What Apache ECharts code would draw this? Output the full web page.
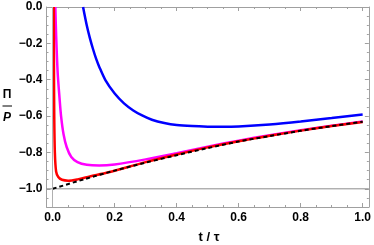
<!DOCTYPE html>
<html><head><meta charset="utf-8">
<script src="https://cdn.jsdelivr.net/npm/echarts@6/dist/echarts.min.js"></script>
<style>html,body{margin:0;padding:0;background:#fff}#c{width:374px;height:245px}</style>
</head><body><div id="c"></div>
<script>
// ---- data ----
const xMajorTicks = [0, 0.2, 0.4, 0.6, 0.8, 1.0];
const xMinorTicks = [0.05,0.1,0.15,0.25,0.3,0.35,0.45,0.5,0.55,0.65,0.7,0.75,0.85,0.9,0.95];
const yMajorTicks = [0, -0.2, -0.4, -0.6, -0.8, -1.0];
const yMinorTicks = [-0.05,-0.1,-0.15,-0.25,-0.3,-0.35,-0.45,-0.5,-0.55,-0.65,-0.7,-0.75,-0.85,-0.9,-0.95,-1.05];

const blueX = [0.098,0.11,0.12,0.13,0.14,0.15,0.17,0.2,0.23,0.26,0.29,0.32,0.36,0.4,0.45,0.5,0.55,0.6,0.7,0.8,0.9,1.0];
const blueY = [0,-0.102,-0.171,-0.231,-0.284,-0.328,-0.402,-0.476,-0.53,-0.569,-0.598,-0.62,-0.638,-0.649,-0.655,-0.658,-0.659,-0.657,-0.646,-0.63,-0.611,-0.591];

const magentaX = [0.0085,0.011,0.016,0.022,0.027,0.035,0.045,0.06,0.08,0.11,0.15,0.2,0.3,0.4,0.5,0.6,0.7,0.8,0.9,1.0];
const magentaY = [0,-0.15,-0.36,-0.5,-0.6,-0.7,-0.77,-0.825,-0.853,-0.868,-0.872,-0.866,-0.838,-0.804,-0.768,-0.735,-0.705,-0.678,-0.653,-0.63];

const redX = [0.0035,0.004,0.005,0.007,0.011,0.018,0.03,0.05,0.08,0.12,0.18,0.3,0.4,0.5,0.6,0.7,0.8,0.9,1.0];
const redY = [0,-0.3,-0.6,-0.8,-0.905,-0.935,-0.95,-0.955,-0.948,-0.932,-0.909,-0.853,-0.811,-0.772,-0.738,-0.708,-0.68,-0.655,-0.632];

const dashX = [0,0.1,0.2,0.3,0.4,0.5,0.6,0.7,0.8,0.9,1.0];
const dashY = [-1,-0.948,-0.9,-0.856,-0.815,-0.776,-0.74,-0.71,-0.681,-0.655,-0.631];

const refLineY = -1;
const refLineX = 0;
// --------------------------------------

const zip = (xs, ys) => xs.map((x, i) => [x, ys[i]]);
const fmt = v => (v < 0 ? '\u2212' : '') + Math.abs(v).toFixed(1);
const frameColor = '#a0a0a0';
const lblStyle = {color:'#000', fontWeight:'bold', fontSize:12, fontFamily:'Liberation Sans, Arial, sans-serif'};

function xAx(pos, major, labels) {
  return {
    type:'value', min:-0.02, max:1.02, position:pos, gridIndex:0,
    axisLine:{show:major, onZero:false, lineStyle:{color:frameColor, width:1}},
    axisTick:{show:true, inside:true, length: major?4:2, customValues: major?xMajorTicks:xMinorTicks, lineStyle:{color:frameColor}},
    axisLabel: labels ? Object.assign({show:true, customValues:xMajorTicks, formatter:fmt, margin:5}, lblStyle) : {show:false},
    splitLine:{show:false}
  };
}
function yAx(pos, major, labels) {
  return {
    type:'value', min:-1.1, max:0, position:pos, gridIndex:0,
    axisLine:{show:major, onZero:false, lineStyle:{color:frameColor, width:1}},
    axisTick:{show:true, inside:true, length: major?4:2, customValues: major?yMajorTicks:yMinorTicks, lineStyle:{color:frameColor}},
    axisLabel: labels ? Object.assign({show:true, customValues:yMajorTicks, formatter:fmt, margin:4}, lblStyle) : {show:false},
    splitLine:{show:false}
  };
}
const curve = (xs, ys, color, width, type) => ({
  type:'line', data:zip(xs, ys), symbol:'none', smooth:0.3,
  lineStyle:{color:color, width:width, type:type||'solid'}, clip:true
});

const chart = echarts.init(document.getElementById('c'), null, {renderer:'canvas'});
chart.setOption({
  animation:false,
  grid:{left:46.5, right:1.7, top:7, bottom:38, containLabel:false},
  xAxis:[xAx('bottom',true,true), xAx('bottom',false,false), xAx('top',true,false), xAx('top',false,false)],
  yAxis:[yAx('left',true,true), yAx('left',false,false), yAx('right',true,false), yAx('right',false,false)],
  series:[
    {type:'line', data:[[-0.02,refLineY],[1.02,refLineY]], symbol:'none', lineStyle:{color:'#8c8c8c', width:1}, silent:true,
     markLine:{symbol:'none', silent:true, label:{show:false}, lineStyle:{color:'#b0b0b0', width:1, type:'solid'}, data:[{xAxis:refLineX}]}},
    curve(blueX, blueY, '#0000ff', 2.5),
    curve(magentaX, magentaY, '#ff00ff', 2.5),
    curve(redX, redY, '#ff0000', 2.5),
    curve(dashX, dashY, '#000000', 2, [4,3])
  ],
  graphic:[
    {type:'text', x:209, y:237, style:{text:'t / \u03c4', textAlign:'center', textVerticalAlign:'middle', fill:'#000', font:'bold 13px "Liberation Sans", Arial, sans-serif'}},
    {type:'text', x:7, y:95, style:{text:'\u03a0', textAlign:'center', textVerticalAlign:'middle', fill:'#000', font:'bold 12px "Liberation Sans", Arial, sans-serif'}},
    {type:'line', shape:{x1:2.5, y1:106, x2:12, y2:106}, style:{stroke:'#000', lineWidth:1}},
    {type:'text', x:7, y:118, style:{text:'P', textAlign:'center', textVerticalAlign:'middle', fill:'#000', font:'italic bold 12px "Liberation Sans", Arial, sans-serif'}}
  ]
});
</script></body></html>
